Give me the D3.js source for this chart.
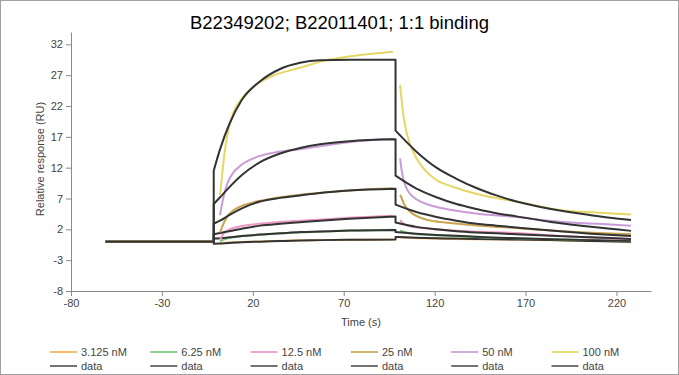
<!DOCTYPE html>
<html>
<head>
<meta charset="utf-8">
<script src="https://cdn.jsdelivr.net/npm/d3@7"></script>
<style>
    body { margin: 0; background: #fff; }
    svg { display: block; font-family: "Liberation Sans", Arial, sans-serif; }
</style>
</head>
<body>
<div id="chart"></div>
<script>
var concentrations = ["3.125 nM", "6.25 nM", "12.5 nM", "25 nM", "50 nM", "100 nM"];
var xTicks = [-80, -30, 20, 70, 120, 170, 220];
var yTicks = [-8, -3, 2, 7, 12, 17, 22, 27, 32];

// baseline before injection (all series)
var baseTimes = [-61, -1.5];

// fitted curves (black)
var fitAssocTimes = [-1.5, 2, 7, 14, 24, 35, 46, 57, 73, 98.5];
var fitDissocTimes = [98.5, 110, 121, 132, 143, 154, 165, 184, 206, 228];
var fitAssoc = [
    [-0.35, -0.3, -0.2, -0.1, 0.0, 0.1, 0.2, 0.25, 0.3, 0.35],
    [0.5, 0.55, 0.7, 0.9, 1.15, 1.35, 1.55, 1.65, 1.8, 1.9],
    [1.2, 1.4, 1.7, 2.1, 2.6, 2.9, 3.15, 3.4, 3.7, 4.1],
    [2.9, 3.4, 4.3, 5.4, 6.5, 7.1, 7.5, 7.9, 8.3, 8.6],
    [6.1, 7.2, 8.8, 10.8, 12.9, 14.3, 15.2, 15.8, 16.3, 16.6],
    [11.5, 15.0, 19.0, 23.0, 26.0, 28.0, 29.0, 29.4, 29.5, 29.5]
];
var fitDissoc = [
    [0.75, 0.65, 0.55, 0.5, 0.45, 0.4, 0.35, 0.25, 0.1, 0.0],
    [1.55, 1.3, 1.1, 0.95, 0.8, 0.65, 0.55, 0.4, 0.25, 0.15],
    [3.1, 2.4, 2.0, 1.7, 1.5, 1.35, 1.2, 0.95, 0.7, 0.45],
    [6.0, 4.8, 4.0, 3.4, 2.9, 2.6, 2.3, 1.8, 1.3, 0.9],
    [10.7, 8.6, 7.2, 6.1, 5.3, 4.6, 4.1, 3.2, 2.4, 1.75],
    [18.0, 14.6, 12.0, 10.2, 8.7, 7.5, 6.5, 5.3, 4.3, 3.5]
];

// measured curves (coloured)
var dataAssocTimes = [2, 3, 4.5, 6.5, 9, 14, 22, 31, 46, 60, 75, 97];
var dataDissocTimes = [101, 102, 103, 105, 108, 113, 120, 130, 145, 165, 190, 210, 228];
var dataAssoc = [
    [-0.3, -0.25, -0.2, -0.15, -0.1, -0.05, 0.0, 0.1, 0.2, 0.25, 0.3, 0.35],
    [0.0, 0.2, 0.4, 0.55, 0.7, 0.9, 1.1, 1.3, 1.5, 1.65, 1.8, 1.95],
    [0.3, 0.9, 1.5, 1.9, 2.2, 2.55, 2.85, 3.1, 3.4, 3.65, 3.9, 4.2],
    [1.5, 2.3, 3.3, 4.3, 5.0, 5.8, 6.5, 7.0, 7.6, 8.0, 8.35, 8.65],
    [4.3, 6.0, 8.0, 9.8, 11.1, 12.5, 13.7, 14.4, 15.0, 15.6, 16.2, 16.7],
    [7.5, 10.5, 14.5, 18.0, 20.7, 23.2, 25.5, 26.9, 28.2, 29.4, 30.1, 30.8]
];
var dataDissoc = [
    [0.7, 0.7, 0.65, 0.65, 0.6, 0.55, 0.5, 0.45, 0.4, 0.35, 0.2, 0.1, 0.0],
    [1.8, 1.7, 1.6, 1.45, 1.3, 1.15, 1.05, 0.9, 0.7, 0.55, 0.35, 0.25, 0.15],
    [3.5, 3.2, 2.9, 2.65, 2.4, 2.2, 2.0, 1.8, 1.6, 1.4, 0.9, 0.6, 0.4],
    [7.6, 7.0, 6.2, 5.3, 4.5, 3.8, 3.3, 3.0, 2.6, 2.2, 1.7, 1.4, 1.2],
    [13.5, 11.3, 9.9, 8.4, 7.3, 6.4, 5.7, 5.1, 4.5, 4.0, 3.2, 2.9, 2.6],
    [25.4, 22.5, 20.1, 17.2, 14.7, 12.2, 10.2, 8.9, 7.6, 6.5, 5.1, 4.7, 4.4]
];

var colors = ["#f2b45c", "#7cc87c", "#ef98c4", "#c9a552", "#c99bd8", "#e6d765"];
var fitColor = "#333333";

var margin = { top: 32, right: 28, bottom: 84, left: 71 };
var width = 679 - margin.left - margin.right;
var height = 375 - margin.top - margin.bottom;

var svg = d3.select("#chart").append("svg")
    .attr("width", 679)
    .attr("height", 375);

// outer frame
svg.append("rect")
    .attr("x", 0.5).attr("y", 0.5)
    .attr("width", 678).attr("height", 374)
    .attr("fill", "#fff")
    .attr("stroke", "#a0a0a0");

svg.append("text")
    .attr("x", 339.5)
    .attr("y", 29)
    .attr("text-anchor", "middle")
    .attr("font-size", "18.5px")
    .attr("fill", "#000")
    .text("B22349202; B22011401; 1:1 binding");

var g = svg.append("g")
    .attr("transform", "translate(" + margin.left + "," + margin.top + ")");

var x = d3.scaleLinear().domain([-80, 239]).range([0, width]);
var y = d3.scaleLinear().domain([-8, 34]).range([height, 0]);

// plain hyphen for negatives, like the original
var plain = function (d) { return String(d); };

// axes
var xAxis = g.append("g")
    .attr("transform", "translate(0," + height + ")")
    .call(d3.axisBottom(x).tickValues(xTicks).tickFormat(plain).tickSize(5).tickSizeOuter(0));
var yAxis = g.append("g")
    .call(d3.axisLeft(y).tickValues(yTicks).tickFormat(plain).tickSize(5).tickSizeOuter(0));

[xAxis, yAxis].forEach(function (a) {
    a.select(".domain").attr("stroke", "#8a8a8a");
    a.selectAll(".tick line").attr("stroke", "#8a8a8a");
    a.selectAll(".tick text")
        .attr("fill", "#444")
        .attr("font-size", "11px")
        .attr("font-family", "Liberation Sans, Arial, sans-serif");
});

svg.append("text")
    .attr("x", margin.left + width / 2)
    .attr("y", 326)
    .attr("text-anchor", "middle")
    .attr("font-size", "11px")
    .attr("fill", "#444")
    .text("Time (s)");

svg.append("text")
    .attr("transform", "rotate(-90)")
    .attr("x", -159)
    .attr("y", 44)
    .attr("text-anchor", "middle")
    .attr("font-size", "11px")
    .attr("fill", "#444")
    .text("Relative response (RU)");

// line generators
var straight = d3.line()
    .x(function (d) { return x(d[0]); })
    .y(function (d) { return y(d[1]); });
var smooth = d3.line()
    .x(function (d) { return x(d[0]); })
    .y(function (d) { return y(d[1]); })
    .curve(d3.curveMonotoneX);

function pairs(times, vals) {
    return times.map(function (t, i) { return [t, vals[i]]; });
}

var plot = g.append("g");

concentrations.forEach(function (c, i) {
    var base = baseTimes.map(function (t) { return [t, 0]; });

    // measured data
    [straight(base),
     smooth(pairs(dataAssocTimes, dataAssoc[i])),
     smooth(pairs(dataDissocTimes, dataDissoc[i]))].forEach(function (p) {
        plot.append("path")
            .attr("d", p)
            .attr("fill", "none")
            .attr("stroke", colors[i])
            .attr("stroke-width", 2);
    });

    // fitted curve as one continuous path with vertical jumps
    var a = pairs(fitAssocTimes, fitAssoc[i]);
    var dd = pairs(fitDissocTimes, fitDissoc[i]);
    var p = straight(base) +
        smooth(a).replace(/^M/, "L") +
        smooth(dd).replace(/^M/, "L");
    plot.append("path")
        .attr("d", p)
        .attr("fill", "none")
        .attr("stroke", fitColor)
        .attr("stroke-width", 2)
        .attr("stroke-linejoin", "round");
});

// legend
var legend = svg.append("g");
concentrations.forEach(function (c, i) {
    var lx = 50 + i * 100.3;
    [[c, colors[i], 352], ["data", "#5a5a5a", 366]].forEach(function (row) {
        legend.append("line")
            .attr("x1", lx).attr("x2", lx + 27)
            .attr("y1", row[2]).attr("y2", row[2])
            .attr("stroke", row[1])
            .attr("stroke-opacity", 0.85)
            .attr("stroke-width", 2);
        legend.append("text")
            .attr("x", lx + 31)
            .attr("y", row[2] + 4)
            .attr("font-size", "11px")
            .attr("fill", "#444")
            .text(row[0]);
    });
});
</script>
</body>
</html>
